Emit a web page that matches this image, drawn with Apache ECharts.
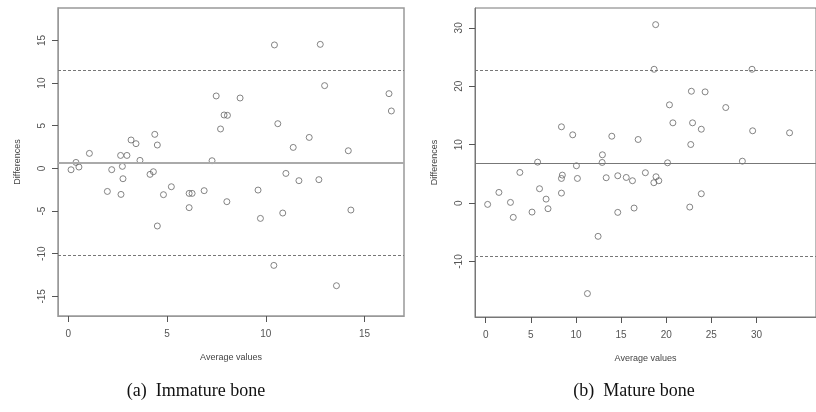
<!DOCTYPE html>
<html>
<head>
<meta charset="utf-8">
<script src="https://cdn.jsdelivr.net/npm/echarts@6/dist/echarts.min.js"></script>
<style>
  html, body { margin: 0; padding: 0; background: #fff; }
  #chart { width: 816px; height: 412px; }
</style>
</head>
<body>
<div id="chart"></div>
<script>
// (a) immature bone: average of the two methods vs their difference
var leftAvg = [0.14, 0.39, 0.54, 1.07, 1.98, 2.2, 2.65, 2.97, 2.74, 2.77, 2.67, 3.18, 3.43, 3.63, 4.38, 4.51, 4.14, 4.31, 4.51, 4.82,
  5.22, 6.12, 6.27, 6.12, 6.88, 7.28, 7.49, 7.71, 7.89, 8.06, 8.03, 10.44, 12.76, 8.7, 12.98, 16.24, 16.36, 10.61, 12.2, 11.39,
  14.18, 11.02, 11.68, 12.69, 9.61, 9.73, 10.86, 14.31, 10.41, 13.58];
var leftDiff = [-0.16, 0.7, 0.16, 1.76, -2.7, -0.15, 1.52, 1.52, 0.24, -1.21, -3.05, 3.33, 2.9, 0.94, 3.99, 2.74, -0.7, -0.39, -6.75, -3.08,
  -2.15, -2.93, -2.93, -4.6, -2.61, 0.9, 8.49, 4.62, 6.26, 6.22, -3.9, 14.47, 14.54, 8.25, 9.7, 8.76, 6.73, 5.24, 3.63, 2.46,
  2.07, -0.59, -1.44, -1.32, -2.54, -5.86, -5.23, -4.88, -11.37, -13.75];
// mean, upper limit, lower limit
var leftLimits = [0.72, 11.55, -10.15];
var leftXTicks = [0, 5, 10, 15];
var leftYTicks = [-15, -10, -5, 0, 5, 10, 15];

// (b) mature bone
var rightAvg = [0.21, 1.46, 2.74, 3.05, 3.78, 5.13, 5.75, 5.96, 6.69, 6.9, 8.39, 8.49, 8.39, 8.39, 9.64, 10.05, 10.16, 11.27, 12.45, 12.93,
  12.9, 13.35, 13.97, 14.63, 14.63, 15.57, 16.26, 16.44, 16.89, 17.69, 18.83, 18.66, 18.63, 18.87, 19.18, 20.15, 20.36, 20.74, 22.61, 22.72,
  22.79, 22.92, 23.89, 23.89, 24.31, 26.6, 28.44, 29.51, 29.58, 33.67];
var rightDiff = [-0.22, 1.83, 0.12, -2.44, 5.25, -1.54, 7.01, 2.46, 0.68, -0.96, 13.06, 4.79, 4.22, 1.71, 11.69, 6.39, 4.22, -15.49, -5.69, 8.27,
  6.96, 4.34, 11.45, 4.68, -1.59, 4.39, 3.83, -0.85, 10.89, 5.2, 30.55, 22.91, 3.49, 4.51, 3.83, 6.9, 16.82, 13.74, -0.68, 10.03,
  19.15, 13.74, 12.65, 1.6, 19.04, 16.36, 7.18, 22.91, 12.38, 12.03];
var rightLimits = [6.9, 22.8, -9.1];
var rightXTicks = [0, 5, 10, 15, 20, 25, 30];
var rightYTicks = [-10, 0, 10, 20, 30];

var captions = ['(a)  Immature bone', '(b)  Mature bone'];

// axis ranges [xmin, xmax, ymin, ymax]
var leftRange = [-0.52, 17.0, -17.3, 18.8];
var rightRange = [-1.19, 36.6, -19.5, 33.4];

function zip(xs, ys) {
  return xs.map(function (x, i) { return [x, ys[i]]; });
}

function xAxisOf(gridIndex, range, ticks, lineColor) {
  return {
    type: 'value', gridIndex: gridIndex, min: range[0], max: range[1],
    name: 'Average values', nameLocation: 'middle', nameGap: 37,
    nameTextStyle: { color: '#444', fontSize: 9, fontFamily: 'Liberation Sans' },
    axisLine: { show: true, onZero: false, lineStyle: { color: lineColor, width: 1 } },
    axisTick: { show: true, length: 6, customValues: ticks, lineStyle: { color: '#555', width: 1 } },
    axisLabel: { customValues: ticks, margin: 13, color: '#555', fontSize: 10, fontFamily: 'Liberation Sans' },
    splitLine: { show: false }
  };
}

function yAxisOf(gridIndex, range, ticks, lineColor) {
  return {
    type: 'value', gridIndex: gridIndex, min: range[2], max: range[3],
    name: 'Differences', nameLocation: 'middle', nameGap: 36, nameRotate: 90,
    nameTextStyle: { color: '#444', fontSize: 9, fontFamily: 'Liberation Sans' },
    axisLine: { show: true, onZero: false, lineStyle: { color: lineColor, width: 1 } },
    axisTick: { show: true, length: 6, customValues: ticks, lineStyle: { color: '#555', width: 1 } },
    axisLabel: { customValues: ticks, rotate: 90, margin: 11, color: '#555', fontSize: 10, fontFamily: 'Liberation Sans' },
    splitLine: { show: false }
  };
}

function pointsOf(idx, xs, ys, limits, meanStyle) {
  return {
    type: 'scatter', xAxisIndex: idx, yAxisIndex: idx,
    data: zip(xs, ys),
    symbol: 'circle', symbolSize: 6,
    itemStyle: { color: 'rgba(0,0,0,0)', borderColor: '#666', borderWidth: 1 },
    silent: true,
    markLine: {
      silent: true, symbol: 'none', label: { show: false },
      data: [
        { yAxis: limits[0], lineStyle: meanStyle },
        { yAxis: limits[1], lineStyle: { color: '#777', width: 1, type: [3, 2] } },
        { yAxis: limits[2], lineStyle: { color: '#777', width: 1, type: [3, 2] } }
      ]
    }
  };
}

var chart = echarts.init(document.getElementById('chart'));
chart.setOption({
  animation: false,
  grid: [
    { left: 58, top: 8, width: 346, height: 308, show: true, borderColor: '#999', borderWidth: 1.5 },
    { left: 475, top: 8, width: 363, height: 309, show: true, borderColor: '#777', borderWidth: 1 }
  ],
  xAxis: [xAxisOf(0, leftRange, leftXTicks, '#999'), xAxisOf(1, rightRange, rightXTicks, '#777')],
  yAxis: [yAxisOf(0, leftRange, leftYTicks, '#999'), yAxisOf(1, rightRange, rightYTicks, '#777')],
  series: [
    pointsOf(0, leftAvg, leftDiff, leftLimits, { color: '#aaa', width: 2, type: 'solid' }),
    pointsOf(1, rightAvg, rightDiff, rightLimits, { color: '#777', width: 1, type: 'solid' })
  ],
  graphic: [
    { type: 'text', x: 196, y: 391, style: { text: captions[0], textAlign: 'center', textVerticalAlign: 'middle', fill: '#111', font: '18px "Liberation Serif"' } },
    { type: 'text', x: 634, y: 391, style: { text: captions[1], textAlign: 'center', textVerticalAlign: 'middle', fill: '#111', font: '18px "Liberation Serif"' } }
  ]
});
</script>
</body>
</html>
